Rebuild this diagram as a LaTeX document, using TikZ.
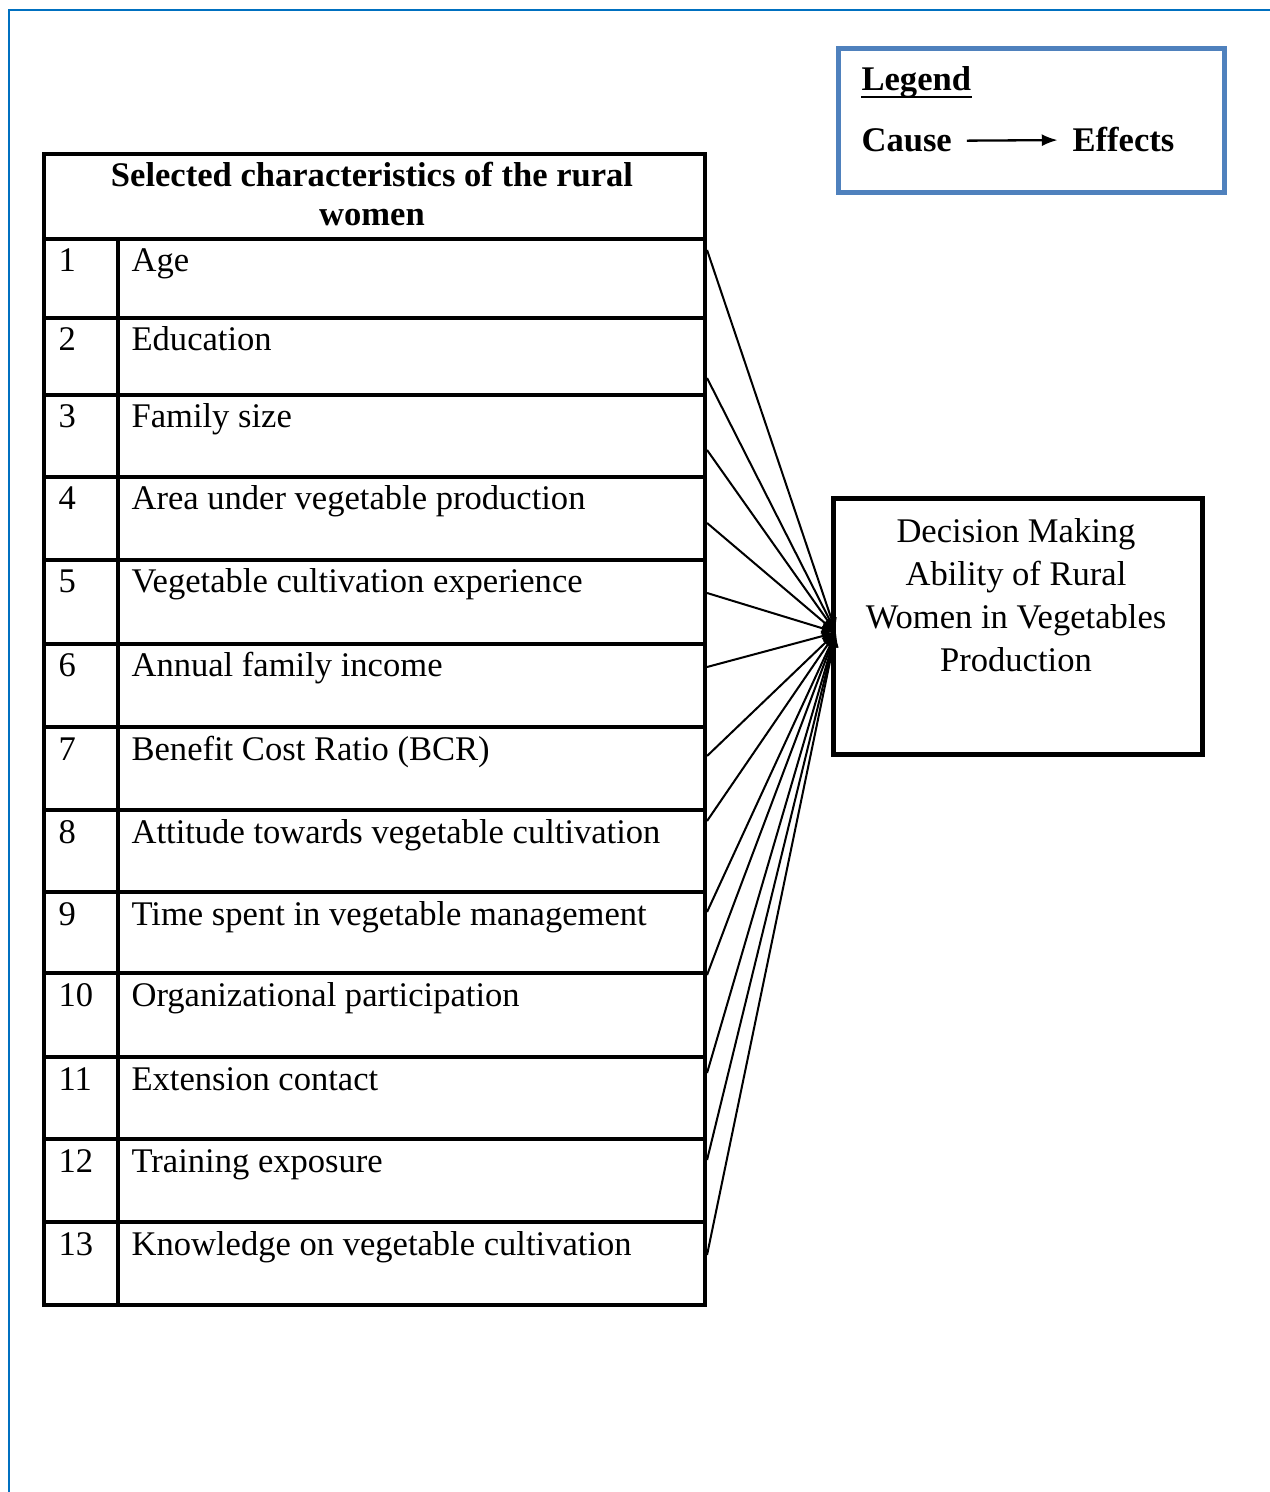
\documentclass[tikz,border=0pt,12pt]{standalone}
\usepackage{fontspec}
\setmainfont{Liberation Serif}
\usetikzlibrary{arrows.meta,calc}

\definecolor{pageblue}{RGB}{0,112,192}
\definecolor{legendblue}{RGB}{79,129,189}

\tikzset{
  cell/.style={draw,line width=1.4pt,anchor=north west,inner sep=0pt},
  txt/.style={anchor=base west,inner sep=0pt},
  link/.style={line width=0.7pt,-{Latex[length=5pt,width=4pt]}}
}

\begin{document}
\begin{tikzpicture}[x=0.3472pt,y=-0.3472pt]
  \useasboundingbox (0,0) rectangle (1270,1492);
  \draw[pageblue,line width=0.9pt] (9,1492) -- (9,10) -- (1270,10);

  \node[draw=legendblue,line width=1.7pt,anchor=north west,inner sep=0pt,
    minimum width=386*0.3472pt,minimum height=144*0.3472pt] (legend) at (836,46) {};
  \node[txt,font=\bfseries] (legtitle) at (861,91) {Legend};
  \draw[line width=0.9pt] ($(legtitle.base west)+(0,6)$) -- ($(legtitle.base east)+(0,6)$);
  \node[txt,font=\bfseries] (cause) at (861,152) {Cause};
  \node[txt,font=\bfseries] (effect) at (1072,152) {Effects};
  \draw[line width=0.8pt,-{Latex[length=5.5pt,width=4.2pt]},shorten <=5pt,shorten >=5pt]
    (cause.east) -- (effect.west);

  \node[cell,minimum width=661*0.3472pt,minimum height=85*0.3472pt] (head) at (42,152) {};
  \node[anchor=north,inner sep=0pt,align=center,font=\bfseries\fontsize{12}{13.5}\selectfont]
    (headtxt) at (372,162) {Selected characteristics of the rural\\women};

  \node[draw,line width=1.7pt,anchor=north west,inner sep=0pt,
    minimum width=369*0.3472pt,minimum height=256*0.3472pt] (dm) at (831,496) {};
  \node[anchor=north,inner sep=0pt,align=center,font=\fontsize{12}{14.9}\selectfont]
    (dmtxt) at (1016,518) {Decision Making\\Ability of Rural\\Women in Vegetables\\Production};
  \coordinate (tip) at ($(dm.west)+(5,6)$);

  \foreach \n/\y/\h/\off/\label in {1/237/79/13/Age,2/316/77/62/Education,
    3/393/82/57/Family size,4/475/83/48/Area under vegetable production,
    5/558/84/35/Vegetable cultivation experience,6/642/83/25/Annual family income,
    7/725/83/31/Benefit Cost Ratio (BCR),8/808/82/13/Attitude towards vegetable cultivation,
    9/890/81/22/Time spent in vegetable management,10/971/84/4/Organizational participation,
    11/1055/82/18/Extension contact,12/1137/83/23/Training exposure,
    13/1220/83/35/Knowledge on vegetable cultivation} {
    \node[cell,minimum width=74*0.3472pt,minimum height=\h*0.3472pt] (n\n) at (42,\y) {};
    \node[cell,minimum width=587*0.3472pt,minimum height=\h*0.3472pt] (r\n) at (116,\y) {};
    \node[txt] (k\n) at ($(n\n.north west)+(16,35)$) {\n};
    \node[txt] (t\n) at ($(r\n.north west)+(15,35)$) {\label};
    \draw[link] ($(r\n.north east)+(0,\off)$) -- (tip);
  }
\end{tikzpicture}
\end{document}
